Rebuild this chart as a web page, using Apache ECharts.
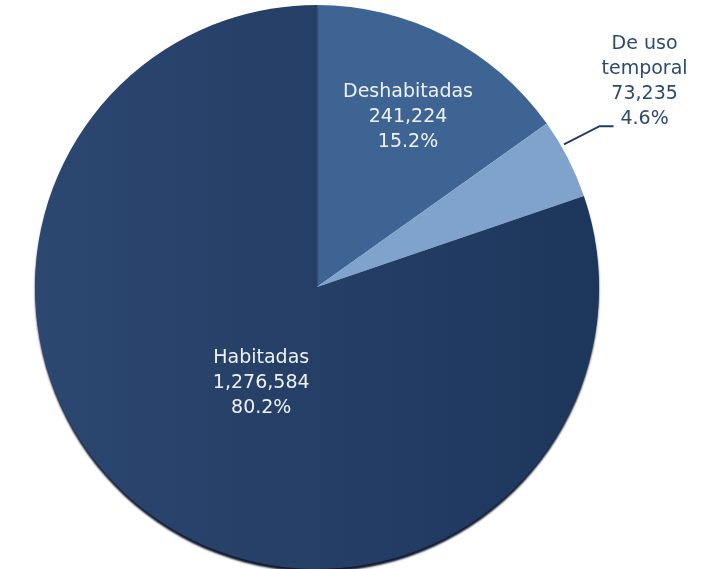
<!DOCTYPE html>
<html>
<head>
<meta charset="utf-8">
<script src="https://cdn.jsdelivr.net/npm/echarts@6/dist/echarts.min.js"></script>
<style>
  html, body { margin: 0; padding: 0; background: #ffffff; }
  #chart { width: 703px; height: 569px; }
</style>
</head>
<body>
<div id="chart"></div>
<script>
// Viviendas por condición de ocupación
const categories = ['Deshabitadas', 'De uso\ntemporal', 'Habitadas'];
const values = [241224, 73235, 1276584];
const sliceColors = [
  '#3e6494',
  '#7fa3cc',
  { type: 'linear', x: 0, y: 0, x2: 1, y2: 0,
    colorStops: [{ offset: 0, color: '#2c4770' }, { offset: 1, color: '#1d365c' }] }
];

const FONT = 'DejaVu Sans';

function fmt(p) {
  return p.name + '\n' + p.value.toLocaleString('en-US') + '\n' + p.percent.toFixed(1) + '%';
}

const data = categories.map(function (name, i) {
  const item = { name: name, value: values[i], itemStyle: { color: sliceColors[i] } };
  if (i === 1) {
    item.label = {
      position: 'outside',
      color: '#2b4a73',
      align: 'center'
    };
    item.labelLine = {
      show: true,
      length: 40,
      length2: 14,
      lineStyle: { color: '#1f3d66', width: 2 }
    };
  } else {
    item.label = { position: 'inside', color: '#eef2f7' };
    item.labelLine = { show: false };
  }
  if (i === 2) {
    // dark rim along the lower edge
    item.itemStyle.shadowColor = 'rgba(4, 12, 35, 0.95)';
    item.itemStyle.shadowBlur = 2;
    item.itemStyle.shadowOffsetY = 3;
  }
  return item;
});

const chart = echarts.init(document.getElementById('chart'), null, { renderer: 'canvas' });
chart.setOption({
  animation: false,
  backgroundColor: '#ffffff',
  series: [{
    type: 'pie',
    center: [317, 287],
    radius: 282,
    startAngle: 90,
    clockwise: true,
    avoidLabelOverlap: false,
    itemStyle: { borderWidth: 0 },
    label: {
      show: true,
      formatter: fmt,
      fontFamily: FONT,
      fontSize: 19,
      lineHeight: 25,
      align: 'center'
    },
    labelLayout: function (p) {
      if (p.dataIndex === 0) return { dx: 25, dy: -42 };
      if (p.dataIndex === 2) return { dx: 28, dy: -21 };
      const pts = p.labelLinePoints;
      if (!pts) return {};
      const sx = -4, sy = -14;
      const moved = pts.map(function (q) { return [q[0] + sx, q[1] + sy]; });
      const end = moved[moved.length - 1];
      return {
        labelLinePoints: moved,
        x: end[0] + 31,
        y: end[1] - 45,
        align: 'center',
        verticalAlign: 'middle'
      };
    },
    data: data
  }]
});
</script>
</body>
</html>
